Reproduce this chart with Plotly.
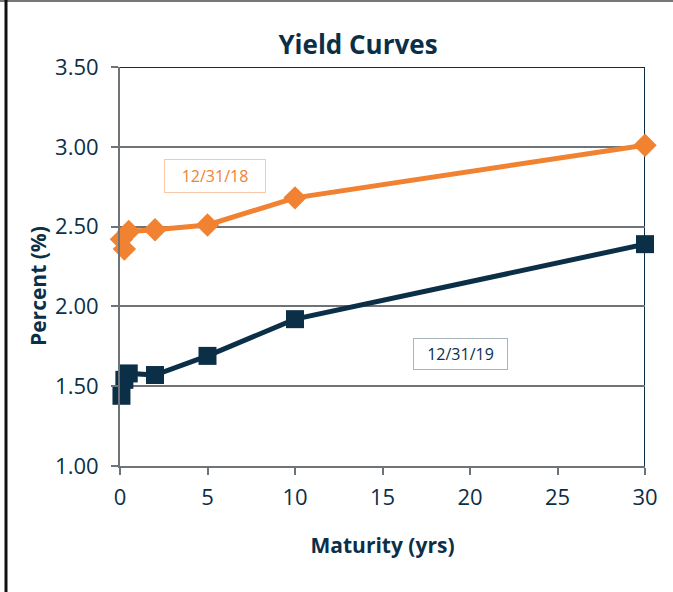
import plotly.graph_objects as go

maturity_18 = [1/12, 0.25, 0.5, 2, 5, 10, 30]
yield_18 = [2.42, 2.36, 2.47, 2.48, 2.51, 2.68, 3.01]
maturity_19 = [1/12, 0.25, 0.5, 2, 5, 10, 30]
yield_19 = [1.44, 1.54, 1.58, 1.57, 1.69, 1.92, 2.39]

x_ticks = [0, 5, 10, 15, 20, 25, 30]
y_ticks = [1.0, 1.5, 2.0, 2.5, 3.0, 3.5]
y_tick_labels = ["1.00", "1.50", "2.00", "2.50", "3.00", "3.50"]

NAVY = "#0c2f48"
ORANGE = "#f08232"
GRAY = "#6e7378"
FONT = "Open Sans"

fig = go.Figure()
fig.add_trace(go.Scatter(
    x=maturity_18, y=yield_18, mode="lines+markers", name="12/31/18",
    line=dict(color=ORANGE, width=5),
    marker=dict(symbol="diamond", size=18, color=ORANGE),
    cliponaxis=False, showlegend=False))
fig.add_trace(go.Scatter(
    x=maturity_19, y=yield_19, mode="lines+markers", name="12/31/19",
    line=dict(color=NAVY, width=5),
    marker=dict(symbol="square", size=18, color=NAVY),
    cliponaxis=False, showlegend=False))

fig.update_layout(
    width=673, height=592,
    margin=dict(l=120, r=28, t=67, b=126),
    paper_bgcolor="white", plot_bgcolor="white",
    font=dict(family=FONT, color=NAVY, size=20),
    title=dict(text="<b>Yield Curves</b>", x=358/673, xanchor="center",
               y=1 - 45/592, yanchor="middle",
               font=dict(family=FONT, size=26, color=NAVY)),
    xaxis=dict(range=[0, 30], tickvals=x_ticks, ticks="outside", ticklen=7,
               tickcolor=GRAY, tickwidth=2, showline=True, linecolor=GRAY,
               linewidth=2, showgrid=False, zeroline=False,
               ticklabelstandoff=4,
               tickfont=dict(family=FONT, size=22, color=NAVY),
               title=dict(text="<b>Maturity (yrs)</b>", standoff=28,
                          font=dict(family=FONT, size=21, color=NAVY))),
    yaxis=dict(range=[1, 3.5], tickvals=y_ticks, ticktext=y_tick_labels,
               ticks="outside", ticklen=7, tickcolor=GRAY, tickwidth=2,
               showline=True, linecolor=GRAY, linewidth=2,
               ticklabelstandoff=8,
               showgrid=True, gridcolor=GRAY, gridwidth=2, zeroline=False,
               tickfont=dict(family=FONT, size=22, color=NAVY)),
)

# y-axis title placed as rotated annotation
fig.add_annotation(x=(38 - 120)/525, y=(466 - 286)/399, xref="paper", yref="paper",
                   text="<b>Percent (%)</b>", textangle=-90, showarrow=False,
                   xanchor="center", yanchor="middle",
                   font=dict(family=FONT, size=21, color=NAVY))

fig.add_annotation(x=5.43, y=2.816, xref="x", yref="y", text="12/31/18",
                   showarrow=False, font=dict(family=FONT, size=16, color=ORANGE),
                   bordercolor="#f7c9a6", borderwidth=1, borderpad=5,
                   bgcolor="white", width=90)
fig.add_annotation(x=19.43, y=1.70, xref="x", yref="y", text="12/31/19",
                   showarrow=False, font=dict(family=FONT, size=16, color=NAVY),
                   bordercolor="#a9b6c0", borderwidth=1, borderpad=4,
                   bgcolor="white", width=85)

# navy top and right plot frame
fig.add_shape(type="line", xref="x", yref="y", x0=0, x1=30, y0=3.5, y1=3.5,
              line=dict(color=NAVY, width=2), layer="below")
fig.add_shape(type="line", xref="x", yref="y", x0=30, x1=30, y0=1, y1=3.5,
              line=dict(color=NAVY, width=2), layer="below")

# image frame (top gray, left black)
fig.add_shape(type="line", xref="paper", yref="paper",
              x0=-120/525, x1=(673 - 120)/525, y0=1 + 66/399, y1=1 + 66/399,
              line=dict(color="#777777", width=2))
fig.add_shape(type="line", xref="paper", yref="paper",
              x0=-114/525, x1=-114/525, y0=-126/399, y1=1 + 67/399,
              line=dict(color="#111111", width=3))

fig.write_html("out.html", config={"displayModeBar": False},
               post_script="document.body.style.margin='0';document.body.style.overflow='hidden';")
